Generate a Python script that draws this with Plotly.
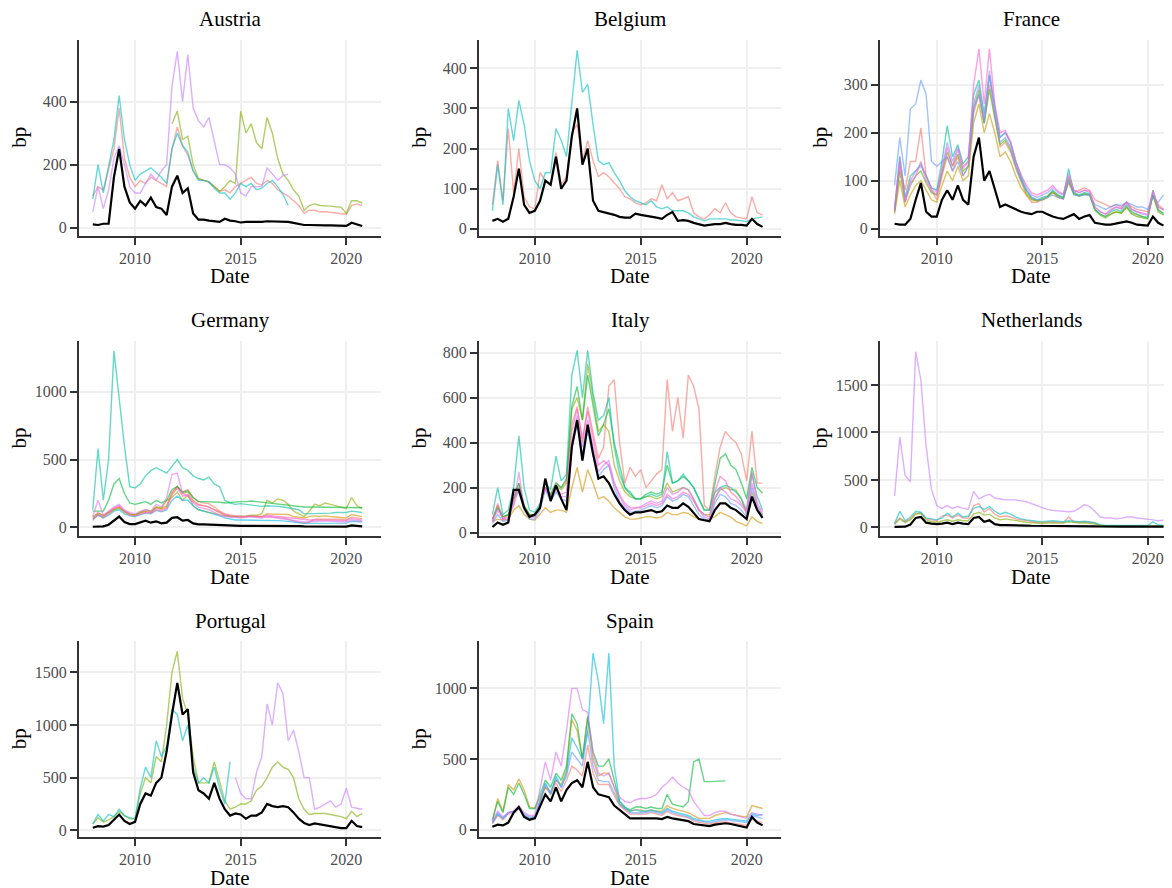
import plotly.graph_objects as go

N = None
# Quarterly observation dates, 2008Q1 .. 2020Q4
DATES = [f"{y}-{m:02d}-01" for y in range(2008, 2021) for m in (1, 4, 7, 10)]

# ---------------- Austria ----------------
AUT_BLACK = [10, 8, 12, 12, 160, 250, 130, 80, 60, 85, 70, 95, 65, 60, 40, 130,
             165, 110, 125, 45, 25, 25, 22, 20, 18, 28, 22, 20, 16, 18, 18, 17,
             18, 20, 20, 18, 20, 18, 15, 12, 8, 8, 7, 7, 7, 7, 6, 6, 5, 15, 10, 5]
AUT_SALMON = [100, 130, 120, 190, 250, 380, 220, 160, 130, 150, 140, 160, 150, 140, 130, 250,
              320, 260, 230, 180, 155, 150, 145, 130, 115, 120, 110, 130, 140, 150, 160, 140,
              135, 150, 140, 120, 110, 100, 85, 70, 45, 55, 55, 50, 50, 48, 45, 45, 42, 70, 75, 70]
AUT_OLIVE = [N, N, N, N, N, N, N, N, N, N, N, N, N, N, N, 330,
             370, 280, 290, 200, 155, 150, 145, 130, 115, 130, 150, 140, 370, 300, 330, 270,
             250, 350, 300, 220, 170, 150, 120, 100, 55, 70, 75, 70, 70, 68, 66, 65, 45, 85, 85, 78]
AUT_CYAN = [90, 200, 110, 200, 280, 420, 280, 200, 150, 170, 180, 190, 175, 160, 140, 250,
            300, 260, 240, 180, 150, 150, 145, 125, 110, 110, 90, 110, 140, 130, 140, 120,
            125, 140, 150, 130, 105, 70, N, N, N, N, N, N, N, N, N, N, N, N, N, N]
AUT_PURPLE = [50, 130, 60, 120, 220, 260, 200, 130, 110, 110, 140, 170, 150, 180, 200, 450,
              560, 400, 550, 380, 340, 320, 350, 280, 200, 200, 190, 170, 110, 100, 130, 130,
              130, 190, 170, 150, 165, 170, N, N, N, N, N, N, N, N, N, N, N, N, N, N]

# ---------------- Belgium ----------------
BEL_BLACK = [20, 25, 18, 25, 80, 150, 60, 40, 45, 70, 120, 110, 180, 100, 120, 230,
             300, 160, 200, 70, 45, 42, 38, 35, 30, 28, 28, 38, 35, 33, 30, 28,
             25, 35, 42, 20, 22, 20, 15, 12, 8, 10, 12, 12, 15, 12, 10, 10, 8, 25, 12, 5]
BEL_SALMON = [60, 170, 70, 250, 90, 200, 80, 55, 50, 140, 120, 110, 190, 110, 130, 240,
              260, 170, 220, 170, 130, 140, 130, 115, 100, 80, 75, 65, 60, 65, 75, 70,
              110, 75, 90, 70, 75, 80, 40, 30, 25, 35, 50, 40, 65, 40, 30, 28, 25, 80, 40, 35]
BEL_CYAN = [45, 160, 60, 300, 220, 320, 260, 170, 120, 100, 140, 140, 250, 220, 180, 320,
            445, 340, 360, 260, 170, 160, 165, 140, 120, 95, 80, 70, 65, 60, 70, 55,
            50, 55, 45, 45, 45, 40, 30, 25, 20, 25, 25, 25, 25, 22, 22, 20, 18, 25, 28, 30]

# ---------------- France ----------------
FRA_BLACK = [10, 8, 8, 20, 60, 95, 35, 25, 25, 60, 80, 60, 90, 60, 50, 150,
             190, 100, 120, 80, 45, 50, 45, 40, 35, 32, 30, 35, 35, 30, 25, 22,
             20, 25, 30, 20, 25, 28, 12, 10, 8, 8, 10, 12, 15, 12, 8, 7, 6, 25, 12, 6]
FRA_SALMON = [40, 130, 80, 140, 140, 210, 110, 80, 60, 110, 150, 120, 150, 110, 130, 240,
              280, 220, 300, 230, 170, 180, 160, 125, 95, 70, 55, 55, 60, 65, 75, 68,
              65, 100, 75, 80, 85, 80, 60, 55, 50, 45, 50, 45, 55, 45, 40, 38, 35, 70, 50, 40]
FRA_GOLD = [30, 100, 45, 70, 90, 100, 80, 60, 55, 90, 120, 100, 130, 100, 110, 220,
            260, 200, 240, 200, 150, 160, 140, 110, 85, 70, 60, 58, 60, 65, 75, 65,
            62, 95, 72, 68, 72, 70, 40, 30, 25, 30, 35, 32, 45, 32, 28, 25, 22, 70, 38, 32]
FRA_GREEN = [35, 120, 55, 90, 110, 120, 95, 75, 70, 115, 160, 130, 155, 120, 130, 250,
             290, 220, 290, 230, 175, 185, 165, 130, 100, 75, 62, 58, 62, 66, 78, 68,
             62, 105, 72, 68, 72, 70, 38, 28, 22, 30, 35, 32, 45, 30, 25, 22, 20, 70, 35, 28]
FRA_TEAL = [40, 150, 65, 110, 120, 135, 110, 85, 80, 140, 215, 150, 175, 135, 150, 280,
            310, 240, 320, 250, 190, 200, 180, 140, 105, 80, 65, 60, 65, 68, 80, 70,
            65, 125, 75, 70, 75, 72, 40, 30, 25, 35, 40, 35, 50, 35, 30, 25, 22, 80, 40, 30]
FRA_BLUE = [90, 190, 110, 250, 260, 310, 280, 140, 130, 140, 150, 120, 140, 110, 130, 250,
            280, 220, 320, 240, 180, 190, 170, 130, 100, 80, 65, 60, 60, 65, 70, 65,
            62, 100, 70, 68, 70, 70, 50, 45, 40, 45, 50, 48, 55, 50, 45, 45, 40, 65, 55, 70]
FRA_PURPLE = [40, 150, 60, 100, 120, 130, 110, 85, 75, 130, 180, 140, 170, 130, 140, 260,
              300, 230, 330, 250, 190, 200, 180, 140, 110, 85, 70, 65, 70, 75, 85, 75,
              70, 115, 80, 75, 80, 75, 45, 35, 30, 40, 45, 40, 55, 40, 35, 30, 28, 75, 45, 40]
FRA_PINK = [35, 140, 55, 95, 110, 140, 100, 80, 70, 120, 170, 130, 165, 125, 140, 300,
            375, 260, 375, 260, 200, 205, 180, 140, 110, 90, 75, 70, 75, 80, 90, 78,
            72, 110, 80, 75, 80, 78, 45, 35, 30, 38, 45, 42, 55, 40, 35, 32, 30, 80, 45, 38]

# ---------------- Germany ----------------
DEU_BLACK = [5, 5, 8, 20, 50, 80, 40, 25, 25, 40, 50, 35, 45, 30, 35, 70,
             75, 50, 55, 30, 22, 22, 20, 18, 15, 14, 12, 12, 12, 12, 12, 12,
             12, 15, 15, 12, 15, 15, 10, 10, 8, 8, 8, 8, 8, 8, 8, 8, 6, 15, 10, 8]
DEU_TEAL = [130, 580, 200, 500, 1300, 950, 600, 300, 290, 320, 380, 420, 440, 420, 400, 450,
            500, 440, 420, 380, 360, 350, 370, 320, 300, 200, 180, 170, 175, 170, 165, 160,
            155, 160, 160, 155, 150, 145, 140, 130, 100, 100, 100, 100, 105, 105, 110, 110,
            110, 120, 115, 110]
DEU_GREEN = [120, 120, 120, 200, 320, 360, 250, 180, 170, 180, 190, 170, 200, 180, 200, 280,
             300, 260, 270, 220, 190, 190, 190, 190, 185, 180, 185, 185, 190, 190, 195, 190,
             185, 180, 180, 175, 170, 165, 160, 155, 150, 150, 150, 150, 150, 150, 150, 150,
             150, 150, 150, 145]
DEU_OLIVE = [80, 100, 90, 110, 130, 140, 120, 100, 90, 110, 130, 120, 150, 140, 200, 220,
             260, 200, 240, 160, 130, 120, 110, 100, 90, 85, 80, 80, 80, 85, 90, 90,
             100, 200, 180, 210, 200, 170, 120, 100, 80, 120, 170, 160, 180, 170, 160, 150,
             140, 220, 160, 140]
DEU_GOLD = [60, 90, 80, 100, 130, 150, 110, 95, 90, 110, 120, 110, 150, 140, 160, 260,
            300, 250, 260, 200, 170, 160, 150, 130, 110, 90, 80, 75, 75, 80, 85, 80,
            80, 100, 100, 95, 100, 95, 80, 75, 70, 80, 85, 80, 85, 80, 75, 75, 70, 95, 85, 80]
DEU_PINK = [50, 100, 70, 110, 140, 160, 120, 90, 85, 100, 110, 105, 130, 120, 140, 240,
            290, 230, 240, 190, 165, 160, 150, 130, 110, 95, 85, 80, 80, 80, 85, 80,
            80, 90, 85, 80, 80, 75, 65, 60, 55, 55, 55, 55, 55, 55, 55, 55, 50, 65, 60, 55]
DEU_PURPLE = [80, 200, 90, 120, 150, 170, 130, 110, 100, 120, 130, 120, 170, 150, 220, 390,
              400, 250, 230, 180, 150, 140, 130, 110, 90, 80, 75, 70, 70, 75, 80, 75,
              70, 80, 75, 70, 65, 60, 50, 45, 40, 42, 45, 45, 48, 45, 42, 42, 40, 55, 50, 45]
DEU_CYAN = [60, 90, 70, 90, 120, 130, 100, 85, 80, 95, 105, 100, 125, 115, 130, 200,
            230, 200, 200, 160, 130, 120, 110, 100, 85, 70, 60, 55, 55, 55, 55, 52,
            50, 55, 52, 50, 48, 45, 40, 35, 30, 30, 32, 32, 35, 35, 35, 35, 32, 45, 42, 40]
DEU_SALMON = [70, 110, 85, 110, 140, 150, 120, 100, 90, 105, 115, 110, 140, 130, 150, 250,
              300, 260, 280, 220, 190, 180, 175, 150, 120, 100, 90, 85, 80, 80, 80, 78,
              75, 80, 78, 72, 70, 60, 45, 35, 30, 40, 60, 60, 65, 60, 60, 60, 55, 75, 70, 65]

# ---------------- Italy ----------------
ITA_BLACK = [25, 45, 35, 45, 190, 190, 110, 70, 80, 110, 240, 140, 210, 150, 100, 380,
             500, 320, 480, 350, 240, 250, 220, 170, 130, 100, 80, 90, 90, 95, 100, 90,
             95, 120, 110, 110, 130, 115, 90, 60, 55, 50, 100, 130, 130, 110, 100, 80,
             60, 160, 100, 65]
ITA_SALMON = [50, 120, 60, 80, 120, 200, 110, 70, 70, 120, 200, 170, 220, 200, 230, 480,
              560, 400, 560, 450, 330, 380, 650, 680, 400, 220, 290, 250, 280, 200, 230, 260,
              280, 680, 450, 600, 420, 700, 650, 550, 120, 100, 250, 380, 450, 420, 400, 350,
              230, 450, 220, 220]
ITA_GOLD = [50, 60, 55, 60, 100, 120, 80, 60, 55, 80, 110, 90, 100, 100, 90, 200,
            290, 180, 280, 220, 150, 160, 140, 110, 90, 70, 60, 60, 65, 70, 70, 65,
            70, 90, 80, 80, 90, 85, 70, 60, 55, 60, 70, 90, 80, 70, 50, 40, 30, 70, 50, 40]
ITA_OLIVE = [60, 120, 70, 80, 150, 220, 120, 80, 80, 120, 200, 160, 210, 190, 220, 550,
             600, 500, 750, 600, 450, 480, 450, 300, 230, 180, 160, 150, 150, 160, 160, 150,
             160, 220, 180, 190, 200, 190, 150, 100, 80, 80, 150, 190, 200, 190, 190, 150,
             80, 180, 100, 80]
ITA_GREEN = [60, 110, 70, 80, 150, 220, 120, 80, 80, 120, 200, 170, 220, 200, 240, 560,
             650, 500, 700, 560, 430, 480, 550, 400, 300, 200, 180, 150, 150, 170, 180, 170,
             180, 300, 220, 230, 250, 230, 200, 150, 100, 100, 220, 330, 350, 300, 280, 220,
             150, 290, 200, 175]
ITA_TEAL = [80, 200, 80, 100, 200, 430, 200, 100, 90, 130, 220, 190, 340, 230, 260, 700,
            810, 600, 810, 620, 500, 520, 600, 380, 260, 200, 170, 150, 150, 160, 170, 160,
            170, 360, 220, 230, 260, 230, 200, 150, 100, 100, 180, 200, 210, 200, 180, 150,
            100, 260, 160, 100]
ITA_BLUE = [40, 80, 50, 55, 150, 180, 100, 60, 60, 100, 190, 140, 180, 150, 140, 380,
            480, 350, 450, 340, 250, 280, 300, 200, 140, 110, 90, 95, 100, 110, 120, 110,
            120, 160, 140, 150, 170, 160, 120, 80, 60, 55, 130, 170, 160, 130, 120, 100,
            70, 200, 110, 70]
ITA_PURPLE = [50, 100, 60, 60, 130, 270, 110, 70, 70, 110, 200, 150, 190, 160, 160, 400,
              520, 380, 500, 380, 270, 300, 320, 220, 160, 120, 100, 110, 115, 130, 140, 130,
              140, 200, 170, 180, 200, 190, 150, 100, 70, 60, 150, 200, 180, 150, 140, 120,
              90, 220, 120, 80]
ITA_PINK = [50, 130, 60, 70, 150, 200, 110, 70, 80, 110, 200, 160, 200, 170, 180, 450,
            550, 420, 540, 420, 300, 320, 300, 220, 170, 130, 110, 110, 110, 120, 130, 120,
            130, 170, 150, 160, 180, 170, 140, 100, 80, 70, 180, 250, 230, 180, 160, 130,
            100, 270, 130, 90]

# ---------------- Netherlands ----------------
NLD_BLACK = [5, 10, 8, 30, 100, 110, 50, 40, 35, 40, 50, 35, 50, 40, 35, 100,
             110, 60, 75, 35, 25, 25, 22, 22, 20, 20, 18, 18, 15, 15, 15, 14,
             14, 18, 18, 15, 15, 15, 12, 10, 8, 8, 8, 8, 8, 8, 8, 8, 8, 15, 10, 8]
NLD_SALMON = [40, 100, 60, 90, 150, 150, 90, 80, 70, 120, 130, 100, 130, 100, 100, 230,
              250, 160, 200, 140, 110, 120, 110, 90, 80, 70, 60, 55, 50, 55, 60, 55,
              50, 110, 60, 55, 60, 55, 45, 20, 15, 15, 15, 15, 15, 15, 15, 15, 15, 20, 15, 15]
NLD_OLIVE = [30, 90, 50, 80, 140, 150, 80, 60, 55, 70, 80, 65, 80, 70, 70, 140,
             160, 130, 140, 100, 80, 90, 80, 70, 60, 55, 50, 45, 40, 45, 50, 45,
             45, 60, 50, 45, 50, 45, 35, 20, 15, 15, 15, 15, 15, 15, 15, 15, 15, 15, 15, 15]
NLD_TEAL = [40, 170, 70, 110, 170, 160, 100, 90, 80, 100, 150, 110, 150, 110, 120, 200,
            220, 190, 220, 170, 140, 160, 140, 110, 90, 80, 70, 65, 60, 65, 70, 65,
            60, 70, 65, 60, 65, 60, 50, 30, 20, 20, 20, 20, 20, 20, 20, 20, 20, 60, 25, 20]
NLD_PURPLE = [330, 950, 550, 480, 1850, 1550, 850, 400, 230, 200, 230, 200, 220, 200, 190, 380,
              300, 330, 350, 310, 300, 290, 290, 290, 280, 270, 250, 230, 210, 190, 180, 175,
              170, 165, 170, 200, 240, 220, 170, 110, 100, 100, 90, 95, 110, 110, 100, 95,
              90, 80, 70, 75]

# ---------------- Portugal ----------------
PRT_BLACK = [25, 40, 35, 50, 100, 150, 90, 60, 80, 250, 350, 330, 450, 500, 750, 1100,
             1400, 1100, 1150, 550, 380, 350, 300, 450, 300, 200, 140, 160, 150, 110, 140, 140,
             170, 250, 230, 220, 230, 220, 170, 110, 70, 50, 65, 55, 50, 40, 30, 20,
             20, 90, 40, 30]
PRT_OLIVE = [60, 120, 80, 100, 130, 180, 140, 110, 110, 350, 500, 450, 700, 650, 1000, 1500,
             1700, 1250, 1100, 700, 450, 450, 450, 650, 450, 280, 200, 220, 250, 250, 280, 380,
             420, 500, 600, 650, 600, 580, 500, 300, 200, 150, 160, 160, 160, 150, 140, 130,
             110, 180, 130, 160]
PRT_CYAN = [60, 150, 90, 150, 130, 200, 140, 120, 110, 400, 600, 500, 850, 700, 800, 1150,
            1100, 850, 1000, 600, 450, 500, 450, 600, 400, 250, 650, N, N, N, N, N,
            N, N, N, N, N, N, N, N, N, N, N, N, N, N, N, N, N, N, N, N]
PRT_PURPLE = [N, N, N, N, N, N, N, N, N, N, N, N, N, N, N, N,
              N, N, N, N, N, N, N, N, N, N, N, 500, 350, 300, 300, 550,
              700, 1200, 1000, 1400, 1300, 850, 950, 750, 500, 500, 200, 220, 250, 280, 220, 250,
              400, 220, 210, 200]

# ---------------- Spain ----------------
ESP_BLACK = [20, 35, 30, 50, 120, 160, 90, 70, 80, 160, 250, 200, 300, 200, 280, 330,
             350, 300, 480, 300, 250, 240, 230, 170, 140, 110, 80, 80, 80, 80, 85, 80,
             75, 90, 80, 75, 70, 60, 40, 35, 30, 25, 35, 40, 45, 40, 30, 20, 15, 90, 50, 30]
ESP_SALMON = [40, 100, 70, 110, 120, 150, 100, 80, 90, 200, 300, 250, 330, 270, 350, 450,
              420, 380, 600, 400, 320, 320, 320, 240, 170, 140, 110, 110, 110, 110, 120, 110,
              100, 130, 110, 100, 95, 85, 60, 50, 45, 40, 50, 55, 55, 50, 45, 35, 30, 80, 60, 50]
ESP_GOLD = [60, 220, 130, 320, 280, 360, 280, 160, 150, 220, 300, 270, 350, 320, 420, 780,
            700, 500, 800, 500, 380, 400, 400, 300, 180, 150, 130, 140, 140, 130, 140, 130,
            130, 170, 150, 140, 130, 120, 100, 80, 80, 80, 100, 110, 120, 110, 100, 95,
            90, 170, 160, 150]
ESP_GREEN = [70, 200, 120, 300, 250, 330, 250, 150, 150, 250, 350, 300, 400, 350, 450, 820,
             750, 500, 800, 550, 450, 450, 500, 350, 200, 160, 140, 160, 160, 150, 160, 150,
             150, 250, 180, 170, 160, 200, 480, 500, 340, 340, 340, 340, 345, N, N, N,
             N, N, N, N]
ESP_CYAN = [50, 110, 80, 120, 130, 150, 100, 80, 90, 200, 330, 250, 380, 300, 400, 650,
            580, 500, 700, 1250, 1050, 750, 1250, 450, 200, 160, 130, 140, 130, 130, 140, 130,
            120, 150, 130, 120, 110, 100, 80, 70, 60, 60, 70, 75, 80, 75, 70, 65, 60, 110, 100, 110]
ESP_BLUE = [50, 120, 80, 120, 130, 160, 110, 90, 90, 210, 320, 260, 360, 300, 380, 550,
            500, 450, 700, 450, 350, 340, 340, 260, 180, 150, 120, 120, 120, 120, 130, 120,
            110, 140, 120, 110, 100, 90, 70, 60, 55, 50, 60, 65, 70, 65, 60, 55, 50, 100, 90, 80]
ESP_PURPLE = [60, 130, 90, 120, 130, 170, 120, 100, 100, 300, 480, 350, 550, 450, 700, 1000,
              1000, 850, 830, 550, 400, 380, 400, 300, 230, 200, 190, 210, 220, 220, 230, 250,
              300, 330, 370, 330, 300, 280, 200, 150, 100, 100, 120, 130, 130, 110, 100, 95,
              80, 120, 110, 100]

# ---------------- tick labels ----------------
X_TICKS = ["2010-01-01", "2015-01-01", "2020-01-01"]
X_TICK_TEXT = ["2010", "2015", "2020"]

PANELS = [
    dict(name="Austria", row=0, col=0, black=AUT_BLACK, yticks=[0, 200, 400], yrange=[-26, 597],
         series=[(AUT_SALMON, "#F8766D"), (AUT_OLIVE, "#7CAE00"), (AUT_CYAN, "#00BFC4"), (AUT_PURPLE, "#C77CFF")]),
    dict(name="Belgium", row=0, col=1, black=BEL_BLACK, yticks=[0, 100, 200, 300, 400], yrange=[-17, 471],
         series=[(BEL_SALMON, "#F8766D"), (BEL_CYAN, "#00BFC4")]),
    dict(name="France", row=0, col=2, black=FRA_BLACK, yticks=[0, 100, 200, 300], yrange=[-15, 394],
         series=[(FRA_SALMON, "#F8766D"), (FRA_GOLD, "#C49A00"), (FRA_GREEN, "#53B400"), (FRA_TEAL, "#00C094"),
                 (FRA_BLUE, "#619CFF"), (FRA_PURPLE, "#A58AFF"), (FRA_PINK, "#FB61D7")]),
    dict(name="Germany", row=1, col=0, black=DEU_BLACK, yticks=[0, 500, 1000], yrange=[-63, 1372],
         series=[(DEU_SALMON, "#F8766D"), (DEU_GOLD, "#D39200"), (DEU_OLIVE, "#93AA00"), (DEU_GREEN, "#00BA38"),
                 (DEU_TEAL, "#00C19F"), (DEU_CYAN, "#00B9E3"), (DEU_PURPLE, "#DB72FB"), (DEU_PINK, "#FF61C3")]),
    dict(name="Italy", row=1, col=1, black=ITA_BLACK, yticks=[0, 200, 400, 600, 800], yrange=[-15, 851],
         series=[(ITA_SALMON, "#F8766D"), (ITA_GOLD, "#D39200"), (ITA_OLIVE, "#93AA00"), (ITA_GREEN, "#00BA38"),
                 (ITA_TEAL, "#00C19F"), (ITA_BLUE, "#619CFF"), (ITA_PURPLE, "#DB72FB"), (ITA_PINK, "#FF61C3")]),
    dict(name="Netherlands", row=1, col=2, black=NLD_BLACK, yticks=[0, 500, 1000, 1500], yrange=[-90, 1962],
         series=[(NLD_SALMON, "#F8766D"), (NLD_OLIVE, "#7CAE00"), (NLD_TEAL, "#00BFC4"), (NLD_PURPLE, "#C77CFF")]),
    dict(name="Portugal", row=2, col=0, black=PRT_BLACK, yticks=[0, 500, 1000, 1500], yrange=[-66, 1794],
         series=[(PRT_OLIVE, "#7CAE00"), (PRT_CYAN, "#00BFC4"), (PRT_PURPLE, "#C77CFF")]),
    dict(name="Spain", row=2, col=1, black=ESP_BLACK, yticks=[0, 500, 1000], yrange=[-54, 1333],
         series=[(ESP_SALMON, "#F8766D"), (ESP_GOLD, "#D39200"), (ESP_GREEN, "#00BA38"), (ESP_CYAN, "#00B9E3"),
                 (ESP_BLUE, "#619CFF"), (ESP_PURPLE, "#DB72FB")]),
]

# The page body adds an 8px margin, so the figure is 8px smaller and all
# page-pixel positions below are shifted by OFF.
OFF = 8
W, H = 1172 - OFF, 888 - OFF
COL_LEFT = [79, 479, 880]
COL_RIGHT = [381, 781, 1172]
COL_CENTER = [230, 630, 1031]
ROW_TOP = [40, 343, 645]
ROW_BOTTOM = [237, 539, 842]
X_RANGES = [["2007-05-08", "2021-08-22"], ["2007-05-15", "2021-08-15"], ["2007-04-24", "2021-02-25"]]


def fx(px):
    return (px - OFF) / W


def fy(py):
    return 1 - (py - OFF) / H


FONT = "Liberation Serif, Times New Roman, serif"

fig = go.Figure()
layout = dict(width=W, height=H, autosize=False, margin=dict(l=0, r=0, t=0, b=0, pad=0),
              paper_bgcolor="white", plot_bgcolor="white", showlegend=False,
              font=dict(family=FONT, color="black"))
annotations = []

for i, p in enumerate(PANELS, start=1):
    xa = f"x{i}" if i > 1 else "x"
    ya = f"y{i}" if i > 1 else "y"
    for vals, col in p["series"]:
        fig.add_trace(go.Scatter(x=DATES, y=vals, mode="lines", xaxis=xa, yaxis=ya,
                                 line=dict(color=col, width=1.4), opacity=0.6,
                                 hoverinfo="skip", connectgaps=False))
    fig.add_trace(go.Scatter(x=DATES, y=p["black"], mode="lines", xaxis=xa, yaxis=ya,
                             line=dict(color="black", width=2.2), hoverinfo="skip"))
    r, c = p["row"], p["col"]
    common = dict(showline=True, linecolor="#333333", linewidth=2, ticks="outside", ticklen=7,
                  tickwidth=2, tickcolor="#333333", showgrid=True, gridcolor="#EFEFEF", gridwidth=2,
                  zeroline=False, tickfont=dict(family=FONT, size=16, color="#4D4D4D"))
    layout["xaxis" + (str(i) if i > 1 else "")] = dict(
        domain=[fx(COL_LEFT[c]), min(1.0, fx(COL_RIGHT[c]))], anchor=ya, type="date",
        range=X_RANGES[c], tickvals=X_TICKS, ticktext=X_TICK_TEXT, **common)
    layout["yaxis" + (str(i) if i > 1 else "")] = dict(
        domain=[fy(ROW_BOTTOM[r]), fy(ROW_TOP[r])], anchor=xa,
        range=p["yrange"], tickvals=p["yticks"], ticktext=[str(v) for v in p["yticks"]], **common)
    annotations.append(dict(text=p["name"], x=fx(COL_CENTER[c]), y=fy(ROW_TOP[r] - 21),
                            xref="paper", yref="paper", showarrow=False, xanchor="center", yanchor="middle",
                            font=dict(family=FONT, size=21, color="black")))
    annotations.append(dict(text="Date", x=fx(COL_CENTER[c]), y=fy(ROW_BOTTOM[r] + 41),
                            xref="paper", yref="paper", showarrow=False, xanchor="center", yanchor="middle",
                            font=dict(family=FONT, size=21, color="black")))
    annotations.append(dict(text="bp", x=fx(COL_LEFT[c] - 60), y=fy((ROW_TOP[r] + ROW_BOTTOM[r]) / 2),
                            xref="paper", yref="paper", showarrow=False, xanchor="center", yanchor="middle",
                            textangle=-90, font=dict(family=FONT, size=21, color="black")))

layout["annotations"] = annotations
fig.update_layout(**layout)
fig.write_html("out.html")
